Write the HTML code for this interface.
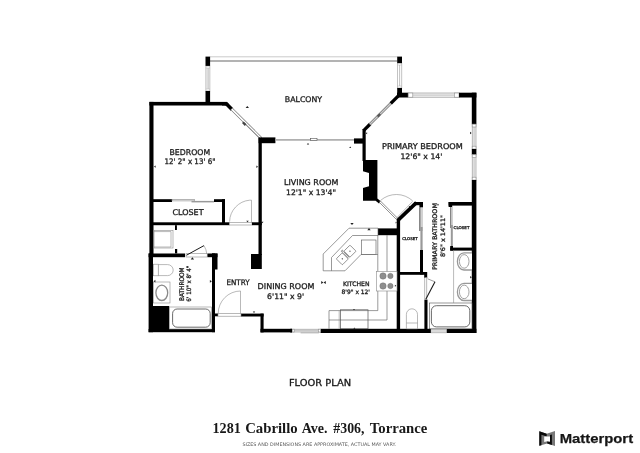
<!DOCTYPE html>
<html><head><meta charset="utf-8"><title>Floor Plan</title>
<style>
html,body{margin:0;padding:0;background:#fff;}
body{width:640px;height:453px;overflow:hidden;position:relative;}
svg{position:absolute;left:0;top:0;display:block;will-change:transform;}
.lbl{font-family:"DejaVu Sans","Liberation Sans",sans-serif;fill:#1c1c1c;stroke:#1c1c1c;stroke-width:0.3;}
.t{stroke:#555;stroke-width:0.6;fill:none;}
.tw{stroke:#555;stroke-width:0.6;fill:#fff;}
.l{stroke:#8a8a8a;stroke-width:0.6;fill:none;}
.lw{stroke:#8a8a8a;stroke-width:0.6;fill:#fff;}
.g{stroke:#808080;stroke-width:0.6;fill:#fff;}
.w{fill:#000;}
.d{stroke:#1a1a1a;stroke-width:1;fill:none;}
</style></head><body>
<svg width="640" height="453" viewBox="0 0 640 453">
<rect width="640" height="453" fill="#fff"/>

<g id="balcony">
<line x1="210" y1="56.8" x2="397.4" y2="56.8" stroke="#b4b4b4" stroke-width="0.7" stroke-linecap="butt"/>
<line x1="210" y1="61.0" x2="397.4" y2="61.0" stroke="#9a9a9a" stroke-width="1.6" stroke-linecap="butt"/>
<rect class="" x="205.90" y="66.00" width="4.00" height="25.00" fill="#fff" stroke="#9c9c9c" stroke-width="0.6"/>
<line x1="207.2" y1="68" x2="207.2" y2="89" stroke="#adadad" stroke-width="0.6" stroke-linecap="butt"/>
<line x1="208.6" y1="68" x2="208.6" y2="89" stroke="#adadad" stroke-width="0.6" stroke-linecap="butt"/>
<line x1="205.9" y1="68" x2="209.9" y2="68" stroke="#b0b0b0" stroke-width="0.5" stroke-linecap="butt"/>
<line x1="205.9" y1="89" x2="209.9" y2="89" stroke="#b0b0b0" stroke-width="0.5" stroke-linecap="butt"/>
<rect class="" x="397.50" y="63.00" width="4.30" height="25.00" fill="#fff" stroke="#9c9c9c" stroke-width="0.6"/>
<line x1="399.6" y1="65" x2="399.6" y2="86" stroke="#a8a8a8" stroke-width="0.7" stroke-linecap="butt"/>
<line x1="397.5" y1="65" x2="401.8" y2="65" stroke="#b0b0b0" stroke-width="0.5" stroke-linecap="butt"/>
<line x1="397.5" y1="86" x2="401.8" y2="86" stroke="#b0b0b0" stroke-width="0.5" stroke-linecap="butt"/>
<rect class="w" x="205.50" y="56.60" width="4.60" height="9.30" />
<rect class="w" x="205.50" y="91.00" width="4.60" height="12.00" />
<rect class="w" x="397.20" y="56.60" width="4.80" height="6.50" />
<rect class="w" x="397.20" y="88.00" width="4.80" height="9.00" />
</g>
<g id="outer">
<rect class="w" x="149.40" y="101.90" width="77.10" height="3.60" />
<rect class="w" x="149.40" y="101.90" width="4.10" height="153.10" />
<rect class="w" x="148.60" y="253.40" width="4.40" height="78.80" />
<line x1="225.6" y1="103.0" x2="232" y2="109.4" stroke="#000" stroke-width="3.6" stroke-linecap="butt"/>
<polygon class="w" points="222,101.9 226.4,101.9 229,104.2 226,105.5 222,105.5"/>
<line x1="231.4" y1="108.8" x2="261" y2="138.2" stroke="#6a6a6a" stroke-width="3.0" stroke-linecap="butt"/>
<line x1="231.8" y1="109.2" x2="260.6" y2="137.8" stroke="#fff" stroke-width="1.7" stroke-linecap="butt"/>
<line x1="244" y1="122.6" x2="260" y2="138.4" stroke="#8a8a8a" stroke-width="1.0" stroke-linecap="butt"/>
<line x1="242.8" y1="122.3" x2="245.6" y2="125.1" stroke="#444" stroke-width="2.2" stroke-linecap="butt"/>
<rect class="w" x="258.60" y="137.40" width="16.80" height="5.80" />
<rect class="" x="275.40" y="139.10" width="78.60" height="1.60" fill="#a8a8a8"/>
<rect class="tw" x="310.60" y="138.60" width="6.40" height="1.80" />
<rect class="w" x="354.00" y="138.40" width="9.00" height="5.20" />
<rect class="w" x="362.50" y="129.00" width="3.20" height="32.00" />
<polygon class="w" points="363,160 377.4,160 377.4,198.6 381,201.6 379,203.6 375.6,200.8 363,200.8"/>
<polygon points="362,171 369,173 369,186.2 362,188.2" fill="#fff"/>
<line x1="363.6" y1="130.6" x2="370.2" y2="124.0" stroke="#000" stroke-width="3.2" stroke-linecap="butt"/>
<line x1="369.6" y1="124.6" x2="391.6" y2="102.6" stroke="#7a7a7a" stroke-width="2.8" stroke-linecap="butt"/>
<line x1="370" y1="124.2" x2="391.2" y2="103.0" stroke="#cfcfcf" stroke-width="1.2" stroke-linecap="butt"/>
<line x1="377.6" y1="116.6" x2="380.2" y2="114.0" stroke="#555" stroke-width="2.2" stroke-linecap="butt"/>
<line x1="390.8" y1="103.4" x2="399.6" y2="94.6" stroke="#000" stroke-width="3.4" stroke-linecap="butt"/>
<rect class="w" x="397.00" y="92.70" width="11.20" height="4.80" />
<rect x="408.20" y="93.00" width="50.80" height="4.20" fill="#efefef" stroke="#8c8c8c" stroke-width="0.6"/>
<line x1="412.8" y1="95.1" x2="454.4" y2="95.1" stroke="#a8a8a8" stroke-width="0.6"/>
<rect x="408.20" y="93.00" width="4.60" height="4.20" fill="#fff" stroke="#8c8c8c" stroke-width="0.6"/>
<rect x="454.40" y="93.00" width="4.60" height="4.20" fill="#fff" stroke="#8c8c8c" stroke-width="0.6"/>
<rect class="w" x="459.00" y="92.70" width="17.40" height="4.80" />
<rect class="w" x="471.80" y="92.70" width="4.60" height="31.50" />
<rect x="472.20" y="124.20" width="3.80" height="24.80" fill="#efefef" stroke="#8c8c8c" stroke-width="0.6"/>
<line x1="474.1" y1="127.0" x2="474.1" y2="146.2" stroke="#a8a8a8" stroke-width="0.6"/>
<rect x="472.20" y="124.20" width="3.80" height="2.80" fill="#fff" stroke="#8c8c8c" stroke-width="0.6"/>
<rect x="472.20" y="146.20" width="3.80" height="2.80" fill="#fff" stroke="#8c8c8c" stroke-width="0.6"/>
<rect class="w" x="471.80" y="149.00" width="4.60" height="5.80" />
<rect x="472.20" y="154.80" width="3.80" height="25.20" fill="#efefef" stroke="#8c8c8c" stroke-width="0.6"/>
<line x1="474.1" y1="157.60000000000002" x2="474.1" y2="177.2" stroke="#a8a8a8" stroke-width="0.6"/>
<rect x="472.20" y="154.80" width="3.80" height="2.80" fill="#fff" stroke="#8c8c8c" stroke-width="0.6"/>
<rect x="472.20" y="177.20" width="3.80" height="2.80" fill="#fff" stroke="#8c8c8c" stroke-width="0.6"/>
<rect class="w" x="471.80" y="180.00" width="4.60" height="153.00" />
<rect class="w" x="446.60" y="328.80" width="29.80" height="4.20" />
<rect class="lw" x="430.80" y="329.20" width="15.60" height="3.60" />
<line class="" x1="431" y1="330.4" x2="446.4" y2="330.4" stroke="#b0b0b0" stroke-width="0.5"/>
<line class="" x1="431" y1="331.6" x2="446.4" y2="331.6" stroke="#b0b0b0" stroke-width="0.5"/>
<rect class="w" x="320.50" y="328.80" width="110.30" height="4.20" />
<rect x="292.20" y="329.20" width="28.10" height="2.80" fill="#efefef" stroke="#8c8c8c" stroke-width="0.6"/>
<line x1="294.2" y1="330.6" x2="318.3" y2="330.6" stroke="#a8a8a8" stroke-width="0.6"/>
<rect x="292.20" y="329.20" width="2.00" height="2.80" fill="#fff" stroke="#8c8c8c" stroke-width="0.6"/>
<rect x="318.30" y="329.20" width="2.00" height="2.80" fill="#fff" stroke="#8c8c8c" stroke-width="0.6"/>
<line class="l" x1="300.6" y1="332.9" x2="318.8" y2="332.9" />
<rect class="w" x="260.50" y="328.80" width="31.50" height="3.60" />
<rect class="w" x="290.20" y="328.80" width="1.80" height="3.60" />
<rect class="w" x="260.50" y="313.60" width="3.10" height="18.80" />
<rect class="w" x="241.00" y="313.60" width="22.60" height="2.90" />
</g>
<g id="interior">
<rect class="w" x="153.00" y="199.20" width="19.00" height="2.80" />
<rect class="g" x="172.00" y="199.30" width="22.50" height="1.60" />
<rect class="" x="191.50" y="200.90" width="22.50" height="1.50" fill="#999"/>
<rect class="w" x="214.00" y="199.20" width="11.00" height="2.80" />
<rect class="w" x="222.00" y="199.20" width="3.00" height="25.80" />
<rect class="w" x="150.00" y="222.30" width="79.50" height="2.90" />
<rect class="lw" x="229.50" y="222.50" width="22.50" height="2.50" />
<rect class="w" x="252.00" y="222.30" width="9.80" height="2.90" />
<path class="l" d="M251.5,222.4 V200.2 H249.6 A22,22 0 0 0 229.6,221.6"/>
<rect class="w" x="258.50" y="138.00" width="3.30" height="117.00" />
<rect class="w" x="251.00" y="254.00" width="10.80" height="15.00" />
<rect class="w" x="148.60" y="253.50" width="36.40" height="3.70" />
<rect class="lw" x="186.00" y="253.70" width="21.20" height="3.30" />
<rect class="w" x="207.50" y="253.50" width="10.00" height="3.70" />
<rect class="w" x="212.00" y="253.50" width="5.50" height="16.00" />
<rect class="w" x="212.00" y="253.50" width="3.00" height="78.70" />
<rect class="w" x="148.60" y="329.00" width="66.40" height="3.20" />
<rect class="w" x="153.00" y="306.00" width="16.20" height="23.50" />
<line x1="186.5" y1="255.2" x2="204" y2="245.6" stroke="#1a1a1a" stroke-width="1.0" stroke-linecap="butt"/>
<path class="l" d="M204,245.6 Q206.4,249.6 206.8,254"/>
<rect class="w" x="215.00" y="313.50" width="3.00" height="2.80" />
<rect class="lw" x="218.00" y="313.70" width="23.00" height="2.50" />
<path class="l" d="M240.5,313.7 V291 A22.5,22.5 0 0 0 218.2,313.5"/>
<rect class="w" x="378.00" y="228.40" width="19.40" height="6.80" />
<rect class="w" x="396.70" y="219.50" width="3.40" height="109.50" />
<line x1="397.6" y1="220.6" x2="416.4" y2="202.6" stroke="#000" stroke-width="3.6" stroke-linecap="butt"/>
<rect class="w" x="414.00" y="202.00" width="9.00" height="3.20" />
<rect class="w" x="419.40" y="202.00" width="3.60" height="5.50" />
<polygon class="tw" points="379.2,202.2 380.4,201 397.4,218 396.2,219.2" style="stroke:#444"/>
<path class="l" d="M380.6,200.4 A24,24 0 0 1 412.6,200.8"/>
<line class="l" x1="397.4" y1="217.2" x2="412.6" y2="201.4" />
<rect class="" x="419.30" y="207.50" width="1.20" height="23.50" fill="#555"/>
<rect class="" x="421.20" y="207.50" width="1.60" height="23.50" fill="#c8c8c8"/>
<rect class="" x="420.40" y="227.00" width="2.20" height="23.00" fill="#999"/>
<rect class="w" x="420.00" y="250.00" width="3.00" height="24.50" />
<rect class="w" x="396.70" y="272.00" width="30.30" height="2.80" />
<rect class="w" x="424.20" y="272.00" width="3.00" height="6.00" />
<rect class="w" x="424.40" y="299.60" width="3.10" height="29.90" />
<rect class="lw" x="424.80" y="277.60" width="2.00" height="21.80" />
<line x1="425.8" y1="299.2" x2="435" y2="281.8" stroke="#1a1a1a" stroke-width="1.1" stroke-linecap="butt"/>
<line class="t" x1="427.6" y1="278.8" x2="435" y2="281.8" />
<rect class="w" x="448.60" y="202.00" width="23.80" height="3.60" />
<rect class="w" x="448.60" y="202.00" width="3.60" height="5.00" />
<rect class="" x="450.20" y="207.00" width="1.20" height="21.00" fill="#666"/>
<rect class="" x="451.60" y="207.00" width="1.20" height="21.00" fill="#c8c8c8"/>
<rect class="" x="450.80" y="225.00" width="2.00" height="21.00" fill="#999"/>
<rect class="w" x="450.20" y="246.00" width="2.80" height="4.60" />
<rect class="w" x="450.20" y="247.60" width="22.20" height="3.00" />
</g>
<g id="fixtures">
<rect class="lw" x="154.00" y="230.50" width="19.00" height="17.50" />
<path class="l" d="M154,231.6 H171 V247 H154"/>
<rect class="w" x="175.00" y="225.20" width="1.90" height="4.80" />
<rect class="w" x="175.00" y="249.00" width="2.20" height="4.40" />
<rect class="lw" x="153.60" y="264.20" width="4.80" height="11.60" />
<path class="lw" d="M158.4,264.6 H167.6 A5.6,5.5 0 0 1 167.6,275.6 H158.4 Z"/>
<rect class="lw" x="153.40" y="282.00" width="16.60" height="21.00" />
<ellipse cx="161.8" cy="292.8" rx="5.9" ry="7.7" fill="#fff" stroke="#8a8a8a" stroke-width="1.3"/>
<rect class="lw" x="169.40" y="307.00" width="42.20" height="22.00" />
<rect x="172.6" y="309" width="37.6" height="18.2" rx="4.5" fill="none" stroke="#444" stroke-width="0.8"/>
<polygon class="tw" points="323.2,270.8 323.2,254 349,228.2 378,228.2 378,235.5 352.5,235.5 331.5,257.5 331.5,270.8"/>
<path class="t" d="M331.5,270.8 H345 L361,254.5 H377.8"/>
<rect class="tw" x="361.50" y="240.00" width="14.50" height="14.30" />
<g transform="translate(346.15 255) rotate(-45)">
<rect class="tw" x="-9.7" y="-4.3" width="8.5" height="8.6" rx="0.8"/>
<rect class="tw" x="1.2" y="-4.3" width="8.5" height="8.6" rx="0.8"/>
<line class="t" x1="-0.6" y1="-4" x2="-0.6" y2="4"/><line class="t" x1="0.6" y1="-4" x2="0.6" y2="4"/>
<circle cx="-5.4" cy="0" r="0.65" fill="#444"/><circle cx="5.4" cy="0" r="0.65" fill="#444"/>
<circle cx="0" cy="-5.4" r="0.9" class="tw"/>
</g>
<path class="t" d="M377.8,235.5 V310.6 H329 V328.8"/>
<path class="t" d="M387,235.2 V320 H329"/>
<rect class="lw" x="376.60" y="271.40" width="20.40" height="19.60" />
<g fill="#8e8e8e" stroke="#6a6a6a" stroke-width="0.4">
<circle cx="383.0" cy="276.0" r="3.2"/>
<circle cx="383.0" cy="286.0" r="3.2"/>
<circle cx="390.4" cy="276.0" r="2.7"/>
<circle cx="390.4" cy="286.0" r="2.7"/>
</g>
<rect x="340.4" y="309.8" width="27.6" height="19" fill="none" stroke="#555" stroke-width="0.7"/>
<line class="l" x1="339.2" y1="310.6" x2="339.2" y2="328.8" />
<path class="lw" d="M406.4,328.8 V314.4 A5.55,5.6 0 0 1 417.5,314.4 V328.8 Z"/>
<line class="l" x1="406.4" y1="323" x2="417.5" y2="323" />
<rect class="tw" x="429.60" y="303.00" width="42.40" height="25.80" />
<rect x="431.4" y="305.7" width="38.4" height="21.2" rx="5" fill="none" stroke="#444" stroke-width="0.8"/>
<line class="l" x1="453.6" y1="250.6" x2="453.6" y2="303" />
<path d="M472,252.79999999999998 H464 A6.6,8.6 0 0 0 464,270.0 H472" fill="#fff" stroke="#999" stroke-width="1.3"/>
<ellipse cx="464.2" cy="261.4" rx="4.8" ry="6.8" fill="#fff" stroke="#8a8a8a" stroke-width="0.8"/>
<path d="M472,283.29999999999995 H464 A6.6,8.6 0 0 0 464,300.5 H472" fill="#fff" stroke="#999" stroke-width="1.3"/>
<ellipse cx="464.2" cy="291.9" rx="4.8" ry="6.8" fill="#fff" stroke="#8a8a8a" stroke-width="0.8"/>
</g>
<g id="markers" fill="#222">
<polygon points="245.6,108.1 249.0,108.1 247.3,105.9"/>
<polygon points="155.6,165.4 155.6,167.8 154.0,166.6"/>
<polygon points="256.4,165.6 256.4,168.0 258.0,166.8"/>
<polygon points="306.8,144.6 309.2,144.6 308.0,143.0"/>
<polygon points="349.2,147.9 351.2,147.9 350.2,146.5"/>
<polygon points="367.1,132.2 367.1,134.2 365.7,133.2"/>
<polygon points="470.0,131.8 470.0,134.2 471.6,133.0"/>
<polygon points="350.3,222.9 353.7,222.9 352.0,225.1"/>
<polygon points="367.3,230.3 370.7,230.3 369.0,228.1"/>
<polygon points="321.2,280.9 321.2,284.1 323.4,282.5"/>
<polygon points="325.8,280.9 325.8,284.1 323.5,282.5"/>
<polygon points="470.2,276.0 470.2,278.4 471.8,277.2"/>
<polygon points="394.9,284.8 394.9,286.8 396.3,285.8"/>
<polygon points="155.4,279.8 155.4,282.6 153.6,281.2"/>
<polygon points="209.9,279.9 209.9,282.7 211.8,281.3"/>
<polygon points="190.7,259.4 194.1,259.4 192.4,257.2"/>
<polygon points="246.2,220.7 248.8,220.7 247.5,222.3"/>
<polygon points="261.3,221.8 263.5,221.8 262.4,223.3"/>
<polygon points="252.8,311.4 255.2,311.4 254.0,313.0"/>
<polygon points="436.9,205.3 439.1,205.3 438.0,203.8"/>
<polygon points="408.6,205.9 410.6,205.9 409.6,207.3"/>
<polygon points="395.6,221.7 395.6,223.5 396.8,222.6"/>
<polygon points="353.4,328.8 355.4,328.8 354.4,327.6"/>
<polygon points="353.0,309.0 355.0,309.0 354.0,310.2"/>
</g>
<g class="lbl" text-anchor="middle">
<text x="303.5" y="102.2" font-size="7.8" textLength="37.3" lengthAdjust="spacingAndGlyphs" >BALCONY</text>
<text x="189.8" y="155.2" font-size="7.9" textLength="40.6" lengthAdjust="spacingAndGlyphs" >BEDROOM</text>
<text x="190" y="164.2" font-size="7.6" textLength="51" lengthAdjust="spacingAndGlyphs" >12' 2&quot; x 13' 6&quot;</text>
<text x="311.2" y="184.6" font-size="7.9" textLength="54.4" lengthAdjust="spacingAndGlyphs" >LIVING ROOM</text>
<text x="311" y="194.5" font-size="7.6" textLength="50" lengthAdjust="spacingAndGlyphs" >12'1&quot; x 13'4&quot;</text>
<text x="422.4" y="149" font-size="7.9" textLength="80.8" lengthAdjust="spacingAndGlyphs" >PRIMARY BEDROOM</text>
<text x="421.4" y="159" font-size="7.6" textLength="42" lengthAdjust="spacingAndGlyphs" >12'6&quot; x 14'</text>
<text x="188" y="215.0" font-size="7.9" textLength="31.2" lengthAdjust="spacingAndGlyphs" >CLOSET</text>
<text x="238" y="285" font-size="7.6" textLength="23.2" lengthAdjust="spacingAndGlyphs" >ENTRY</text>
<text x="286" y="288.6" font-size="7.9" textLength="56.8" lengthAdjust="spacingAndGlyphs" >DINING ROOM</text>
<text x="285.6" y="298.6" font-size="7.6" textLength="37" lengthAdjust="spacingAndGlyphs" >6'11&quot; x 9'</text>
<text x="356.3" y="285.6" font-size="6.1" textLength="26.5" lengthAdjust="spacingAndGlyphs" >KITCHEN</text>
<text x="355.8" y="293.6" font-size="6.0" textLength="28.4" lengthAdjust="spacingAndGlyphs" >8'9&quot; x 12'</text>
<text x="409.9" y="240.2" font-size="3.8" textLength="15.4" lengthAdjust="spacingAndGlyphs" >CLOSET</text>
<text x="461.5" y="228.5" font-size="3.8" textLength="15.8" lengthAdjust="spacingAndGlyphs" >CLOSET</text>
<text transform="translate(183.7 284.2) rotate(-90)" font-size="6.4" textLength="33.6" lengthAdjust="spacingAndGlyphs">BATHROOM</text>
<text transform="translate(191.2 283.7) rotate(-90)" font-size="6.0" textLength="35.9" lengthAdjust="spacingAndGlyphs">6' 10&quot; x 8' 4&quot;</text>
<text transform="translate(437 236.6) rotate(-90)" font-size="6.3" textLength="67" lengthAdjust="spacingAndGlyphs">PRIMARY BATHROOM</text>
<text transform="translate(445 236) rotate(-90)" font-size="6.1" textLength="42" lengthAdjust="spacingAndGlyphs">8'6&quot; x 14'11&quot;</text>
<text x="320" y="385.5" font-size="9.4" textLength="62.2" lengthAdjust="spacingAndGlyphs" style="fill:#111">FLOOR PLAN</text>
</g>
<text y="432.5" font-family="'Liberation Serif','DejaVu Serif',serif" font-weight="bold" font-size="14.8" fill="#181818" lengthAdjust="spacingAndGlyphs"><tspan x="212.5" textLength="28.3" lengthAdjust="spacingAndGlyphs">1281</tspan> <tspan x="245.2" textLength="52.5" lengthAdjust="spacingAndGlyphs">Cabrillo</tspan> <tspan x="301.8" textLength="25.8" lengthAdjust="spacingAndGlyphs">Ave.</tspan> <tspan x="333.3" textLength="31.2" lengthAdjust="spacingAndGlyphs">#306,</tspan> <tspan x="369.8" textLength="57.6" lengthAdjust="spacingAndGlyphs">Torrance</tspan></text>
<text x="319.2" y="445.8" text-anchor="middle" font-family="'DejaVu Sans','Liberation Sans',sans-serif" font-size="4.8" fill="#555" textLength="153.6" lengthAdjust="spacingAndGlyphs">SIZES AND DIMENSIONS ARE APPROXIMATE, ACTUAL MAY VARY.</text>
<g id="logo">
<polygon points="539.3,431.2 546.7,433.7 555,431.0 555,445.9 547.2,443.6 539.3,445.8" fill="#787878"/>
<polygon points="539.3,431.2 546.7,433.7 546.7,436.5 541.4,434.8 541.4,445.2 539.3,445.8" fill="#0a0a0a"/>
<polygon points="550.0,435.0 551.9,434.4 551.9,445.0 547.2,443.6 547.2,441.2 550.0,442.1" fill="#0a0a0a"/>
<polygon points="544.2,436.4 546.7,436.5 550.0,436.4 550.0,441.6 547.2,441.2 544.2,441.9" fill="#fff"/>
<text x="559.7" y="443.3" font-family="'Liberation Sans','DejaVu Sans',sans-serif" font-weight="bold" font-size="13" fill="#161616" stroke="#161616" stroke-width="0.25" textLength="73.4" lengthAdjust="spacingAndGlyphs">Matterport</text>
</g>
</svg>
</body></html>
